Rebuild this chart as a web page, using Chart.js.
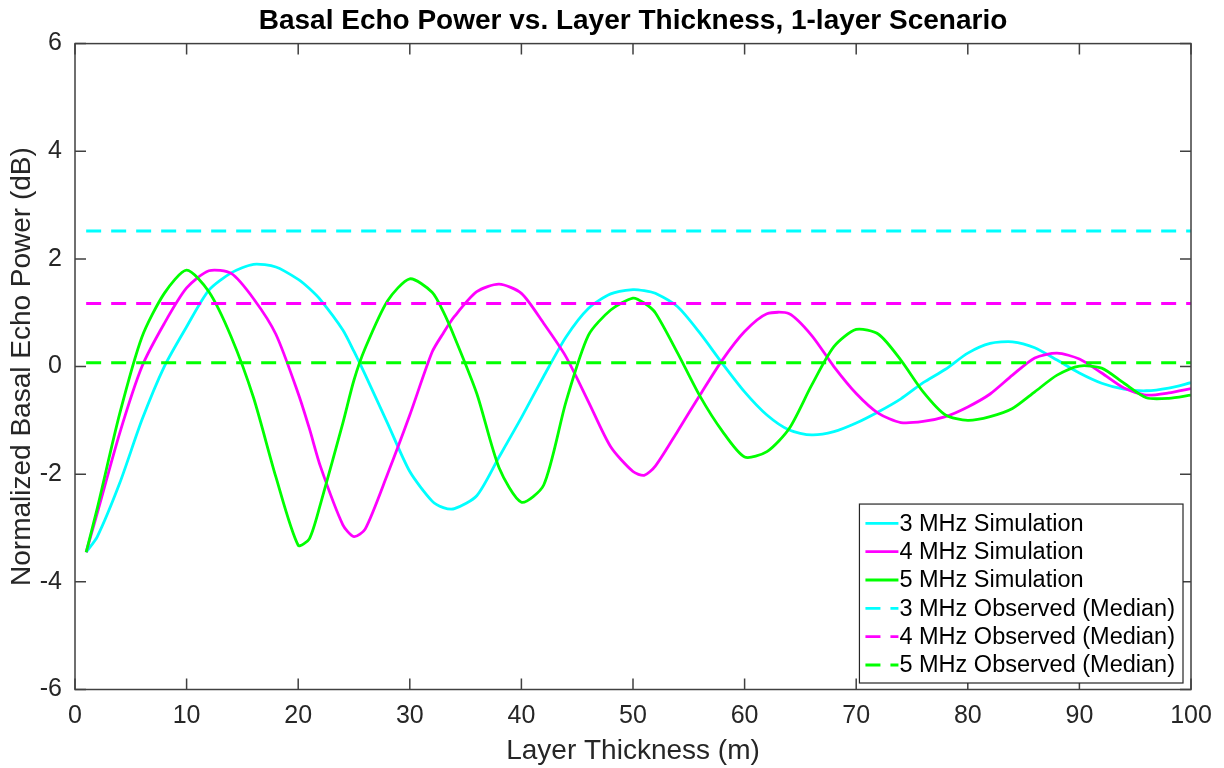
<!DOCTYPE html>
<html>
<head>
<meta charset="utf-8">
<script src="https://cdn.jsdelivr.net/npm/chart.js@4.4.1/dist/chart.umd.min.js"></script>
<style>
  html, body { margin: 0; padding: 0; background: #ffffff; }
  #wrap { width: 1224px; height: 768px; }
</style>
</head>
<body>
<div id="wrap"><canvas id="c" width="1224" height="768"></canvas></div>
<script>
// ---- data ----
const thickness = [1,2,4,6,8,10,12,14,16,18,20,21,22,24,25,26,28,30,32,33,34,36,38,40,42,44,46,48,50,51,52,54,56,58,60,62,64,66,68,70,72,74,76,78,80,82,84,86,88,90,92,94,96,98,100];

const sim3MHz = [-3.45,-3.16,-2.17,-0.99,0.00,0.74,1.42,1.74,1.90,1.85,1.62,1.45,1.24,0.68,0.28,-0.15,-1.05,-1.95,-2.50,-2.62,-2.64,-2.40,-1.68,-0.95,-0.18,0.55,1.08,1.35,1.43,1.41,1.36,1.11,0.62,0.06,-0.47,-0.90,-1.18,-1.27,-1.21,-1.05,-0.84,-0.60,-0.30,-0.05,0.25,0.43,0.46,0.35,0.12,-0.12,-0.31,-0.42,-0.45,-0.40,-0.30];

const sim4MHz = [-3.45,-2.72,-1.24,0.00,0.80,1.46,1.78,1.73,1.26,0.60,-0.50,-1.15,-1.86,-2.94,-3.16,-3.02,-2.00,-0.90,0.27,0.62,0.93,1.39,1.53,1.36,0.80,0.18,-0.65,-1.49,-1.95,-2.02,-1.85,-1.20,-0.53,0.12,0.65,0.98,0.98,0.58,0.00,-0.50,-0.87,-1.04,-1.02,-0.93,-0.75,-0.51,-0.16,0.16,0.25,0.14,-0.12,-0.40,-0.53,-0.49,-0.41];

const sim5MHz = [-3.45,-2.63,-0.88,0.55,1.36,1.79,1.39,0.55,-0.58,-2.05,-3.32,-3.20,-2.55,-1.05,-0.25,0.34,1.22,1.63,1.38,1.02,0.55,-0.50,-1.88,-2.52,-2.20,-0.65,0.58,1.05,1.27,1.18,1.00,0.25,-0.55,-1.20,-1.68,-1.58,-1.15,-0.35,0.37,0.69,0.60,0.12,-0.47,-0.90,-1.00,-0.93,-0.78,-0.47,-0.16,0.01,-0.03,-0.31,-0.58,-0.59,-0.53];

const observedRange = [1, 100];
const observedMedian = [2.52, 1.17, 0.07];   // 3, 4, 5 MHz

const seriesLabels = ['3 MHz Simulation','4 MHz Simulation','5 MHz Simulation',
                      '3 MHz Observed (Median)','4 MHz Observed (Median)','5 MHz Observed (Median)'];
const seriesColors = ['#00FFFF','#FF00FF','#00FF00'];

const xTicks = [0,10,20,30,40,50,60,70,80,90,100];
const yTicks = [-6,-4,-2,0,2,4,6];

// ---- build datasets ----
const FONT = "'Liberation Sans', Arial, Helvetica, sans-serif";
Chart.defaults.font.family = FONT;

function pts(xs, ys) { return xs.map((x, i) => ({ x: x, y: ys[i] })); }

const sims = [sim3MHz, sim4MHz, sim5MHz];
const datasets = [];
sims.forEach((s, i) => {
  datasets.push({
    label: seriesLabels[i],
    data: pts(thickness, s),
    borderColor: seriesColors[i],
    borderWidth: 2.8,
    pointRadius: 0,
    tension: 0.25,
    fill: false,
    order: -i
  });
});
observedMedian.forEach((m, i) => {
  datasets.push({
    label: seriesLabels[3 + i],
    data: pts(observedRange, [m, m]),
    borderColor: seriesColors[i],
    borderWidth: 3,
    borderDash: [15, 10],
    pointRadius: 0,
    fill: false,
    order: -(3 + i)
  });
});

// ---- box with inward ticks on all sides ----
const axesBox = {
  id: 'axesBox',
  afterDatasetsDraw(chart) {
    const { ctx, chartArea: a, scales } = chart;
    const tl = 11;
    ctx.save();
    ctx.strokeStyle = '#404040';
    ctx.lineWidth = 1.5;
    ctx.strokeRect(a.left, a.top, a.right - a.left, a.bottom - a.top);
    ctx.beginPath();
    xTicks.forEach(v => {
      const px = scales.x.getPixelForValue(v);
      ctx.moveTo(px, a.bottom); ctx.lineTo(px, a.bottom - tl);
      ctx.moveTo(px, a.top); ctx.lineTo(px, a.top + tl);
    });
    yTicks.forEach(v => {
      const py = scales.y.getPixelForValue(v);
      ctx.moveTo(a.left, py); ctx.lineTo(a.left + tl, py);
      ctx.moveTo(a.right, py); ctx.lineTo(a.right - tl, py);
    });
    ctx.stroke();
    ctx.restore();
  }
};

// ---- legend box inside plot, lower right ----
const boxLegend = {
  id: 'boxLegend',
  afterDraw(chart) {
    const { ctx, chartArea: a } = chart;
    const ds = chart.data.datasets;
    ctx.save();
    ctx.font = '23.5px ' + FONT;
    let maxW = 0;
    ds.forEach(d => { maxW = Math.max(maxW, ctx.measureText(d.label).width); });
    const rowH = 28.33, padTop = 19.3, padBot = 18;
    const right = a.right - 8, bottom = a.bottom - 6.5;
    const h = padTop + rowH * (ds.length - 1) + padBot;
    const lineLen = 33, padL = 6, gap = 1, padR = 8;
    const w = padL + lineLen + gap + maxW + padR;
    const left = right - w, top = bottom - h;
    ctx.fillStyle = '#ffffff';
    ctx.fillRect(left, top, w, h);
    ctx.strokeStyle = '#262626';
    ctx.lineWidth = 1.2;
    ctx.strokeRect(left, top, w, h);
    ds.forEach((d, i) => {
      const cy = top + padTop + i * rowH;
      ctx.beginPath();
      ctx.strokeStyle = d.borderColor;
      ctx.lineWidth = 2.8;
      ctx.setLineDash(d.borderDash || []);
      ctx.moveTo(left + padL, cy);
      ctx.lineTo(left + padL + lineLen, cy);
      ctx.stroke();
      ctx.setLineDash([]);
      ctx.fillStyle = '#000000';
      ctx.textBaseline = 'middle';
      ctx.textAlign = 'left';
      ctx.fillText(d.label, left + padL + lineLen + gap, cy + 1);
    });
    ctx.restore();
  }
};

new Chart(document.getElementById('c'), {
  type: 'line',
  data: { datasets: datasets },
  plugins: [axesBox, boxLegend],
  options: {
    responsive: false,
    animation: false,
    layout: { padding: { left: 0, right: 33, top: 0, bottom: 0 } },
    plugins: {
      legend: { display: false },
      tooltip: { enabled: false },
      title: {
        display: true,
        fullSize: false,
        text: 'Basal Echo Power vs. Layer Thickness, 1-layer Scenario',
        color: '#000000',
        font: { size: 28, weight: 'bold', family: FONT },
        padding: { top: 4, bottom: 6 }
      }
    },
    scales: {
      x: {
        type: 'linear',
        min: 0, max: 100,
        afterBuildTicks(s) { s.ticks = xTicks.map(v => ({ value: v })); },
        ticks: { font: { size: 25 }, color: '#262626', padding: 12, maxRotation: 0, autoSkip: false },
        grid: { display: false, drawTicks: false },
        border: { display: false },
        title: { display: true, text: 'Layer Thickness (m)', color: '#262626', font: { size: 28 }, padding: { top: 0, bottom: 0 } },
        afterFit(s) { s.height = 78.5; }
      },
      y: {
        min: -6, max: 6,
        afterBuildTicks(s) { s.ticks = yTicks.map(v => ({ value: v })); },
        ticks: { font: { size: 25 }, color: '#262626', padding: 13, autoSkip: false },
        grid: { display: false, drawTicks: false },
        border: { display: false },
        title: { display: true, text: 'Normalized Basal Echo Power (dB)', color: '#262626', font: { size: 28 }, padding: { top: 5, bottom: 0 } },
        afterFit(s) { s.width = 75; }
      }
    }
  }
});
</script>
</body>
</html>
